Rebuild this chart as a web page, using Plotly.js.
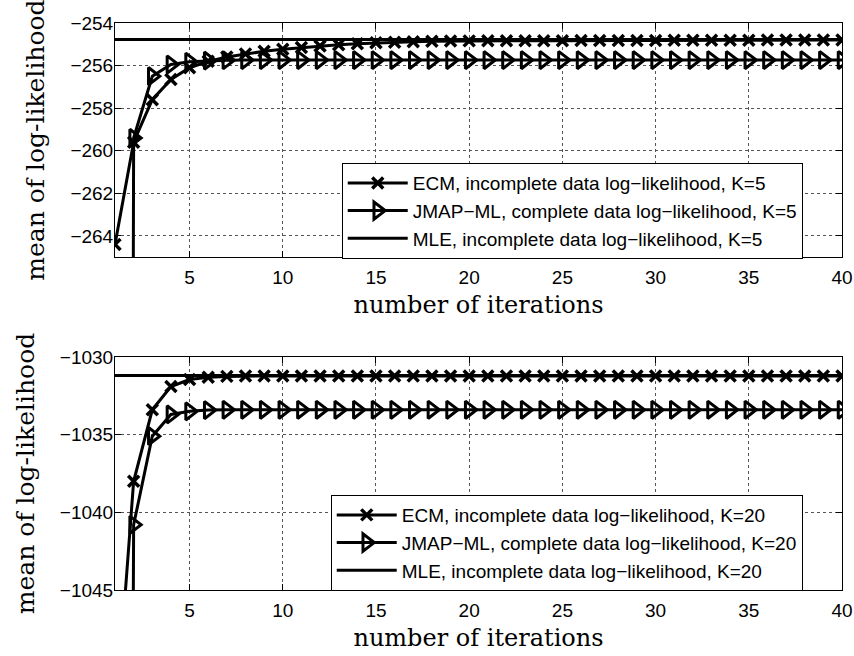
<!DOCTYPE html>
<html>
<head>
<meta charset="utf-8">
<script src="https://cdn.plot.ly/plotly-3.0.1.min.js"></script>
<style>html,body{margin:0;padding:0;background:#fff;}#chart{width:854px;height:656px;}</style>
</head>
<body>
<div id="chart"></div>
<script>
// iterations
const iterations = Array.from({length: 40}, (_, i) => i + 1);

// K=5 (top panel)
const ecmK5 = [-264.4, -259.6, -257.6, -256.65, -256.1, -255.8, -255.6, -255.45, -255.33, -255.23,
  -255.15, -255.08, -255.02, -254.97, -254.93, -254.9, -254.88, -254.86, -254.85, -254.84,
  -254.83, -254.83, -254.83, -254.83, -254.83, -254.82, -254.82, -254.82, -254.82, -254.82,
  -254.81, -254.81, -254.81, -254.81, -254.81, -254.8, -254.8, -254.8, -254.8, -254.8];
const jmapK5 = [-600, -259.4, -256.5, -255.95, -255.82, -255.77, -255.75, -255.74, -255.74, -255.74,
  -255.74, -255.74, -255.74, -255.74, -255.74, -255.74, -255.74, -255.74, -255.74, -255.74,
  -255.74, -255.74, -255.74, -255.74, -255.74, -255.74, -255.74, -255.74, -255.74, -255.74,
  -255.74, -255.74, -255.74, -255.74, -255.74, -255.74, -255.74, -255.74, -255.74, -255.74];
const mleK5 = Array(40).fill(-254.77);

// K=20 (bottom panel)
const ecmK20 = [-1054, -1038.0, -1033.4, -1031.9, -1031.45, -1031.3, -1031.25, -1031.22, -1031.22, -1031.22,
  -1031.22, -1031.22, -1031.22, -1031.22, -1031.22, -1031.22, -1031.22, -1031.22, -1031.22, -1031.22,
  -1031.22, -1031.22, -1031.22, -1031.22, -1031.22, -1031.22, -1031.22, -1031.22, -1031.22, -1031.22,
  -1031.22, -1031.22, -1031.22, -1031.22, -1031.22, -1031.22, -1031.22, -1031.22, -1031.22, -1031.22];
const jmapK20 = [-1300, -1040.8, -1035.1, -1033.7, -1033.5, -1033.42, -1033.4, -1033.4, -1033.4, -1033.4,
  -1033.4, -1033.4, -1033.4, -1033.4, -1033.4, -1033.4, -1033.4, -1033.4, -1033.4, -1033.4,
  -1033.4, -1033.4, -1033.4, -1033.4, -1033.4, -1033.4, -1033.4, -1033.4, -1033.4, -1033.4,
  -1033.4, -1033.4, -1033.4, -1033.4, -1033.4, -1033.4, -1033.4, -1033.4, -1033.4, -1033.4];
const mleK20 = Array(40).fill(-1031.2);

const namesK5 = ["ECM, incomplete data log\u2212likelihood, K=5", "JMAP\u2212ML, complete data log\u2212likelihood, K=5", "MLE, incomplete data log\u2212likelihood, K=5"];
const namesK20 = ["ECM, incomplete data log\u2212likelihood, K=20", "JMAP\u2212ML, complete data log\u2212likelihood, K=20", "MLE, incomplete data log\u2212likelihood, K=20"];
const xTicks = [5, 10, 15, 20, 25, 30, 35, 40];
const yTicksTop = [-264, -262, -260, -258, -256, -254];
const yTicksBottom = [-1045, -1040, -1035, -1030];

const ecmMarker = {symbol: 'x-thin', size: 11, color: '#000', line: {color: '#000', width: 3.5}};
const jmapMarker = {symbol: 'triangle-right-open', size: 15, color: '#000', line: {color: '#000', width: 3}};
const lineStyle = {color: '#000', width: 3};

const traces = [
  {x: iterations, y: ecmK5, name: namesK5[0], mode: 'lines+markers', line: lineStyle, marker: ecmMarker, xaxis: 'x', yaxis: 'y', legend: 'legend'},
  {x: iterations, y: jmapK5, name: namesK5[1], mode: 'lines+markers', line: lineStyle, marker: jmapMarker, xaxis: 'x', yaxis: 'y', legend: 'legend'},
  {x: iterations, y: mleK5, name: namesK5[2], mode: 'lines', line: lineStyle, xaxis: 'x', yaxis: 'y', legend: 'legend'},
  {x: iterations, y: ecmK20, name: namesK20[0], mode: 'lines+markers', line: lineStyle, marker: ecmMarker, xaxis: 'x2', yaxis: 'y2', legend: 'legend2'},
  {x: iterations, y: jmapK20, name: namesK20[1], mode: 'lines+markers', line: lineStyle, marker: jmapMarker, xaxis: 'x2', yaxis: 'y2', legend: 'legend2'},
  {x: iterations, y: mleK20, name: namesK20[2], mode: 'lines', line: lineStyle, xaxis: 'x2', yaxis: 'y2', legend: 'legend2'}
];

const tickFont = {family: 'Liberation Sans, Arial, sans-serif', size: 19, color: '#000'};
function xAxis(anchor) {
  return {
    anchor: anchor, domain: [0, 1], range: [1, 40], tickvals: xTicks, ticktext: xTicks.map(String),
    ticks: 'inside', ticklen: 6, tickcolor: '#000', showline: true, linecolor: '#000', linewidth: 1, mirror: 'ticks',
    showgrid: true, gridcolor: '#555', griddash: 'dot', gridwidth: 1, zeroline: false,
    tickfont: tickFont, ticklabelstandoff: 3,
    title: {text: 'number of iterations', font: {family: 'DejaVu Serif', size: 24, color: '#000'}, standoff: 9}
  };
}
function yAxis(anchor, domain, range, ticks) {
  return {
    anchor: anchor, domain: domain, range: range, tickvals: ticks,
    ticks: 'inside', ticklen: 6, tickcolor: '#000', showline: true, linecolor: '#000', linewidth: 1, mirror: 'ticks',
    showgrid: true, gridcolor: '#555', griddash: 'dot', gridwidth: 1, zeroline: false,
    tickfont: tickFont, ticklabelstandoff: -3,
    title: {text: 'mean of log-likelihood', font: {family: 'DejaVu Serif', size: 25, color: '#000'}, standoff: 18}
  };
}
const legendBase = {bordercolor: '#000', borderwidth: 1, bgcolor: '#fff', font: {family: 'Liberation Sans, Arial, sans-serif', size: 19, color: '#000'},
  xanchor: 'right', yanchor: 'top', itemwidth: 60, tracegroupgap: 0, itemclick: false};

const layout = {
  width: 854, height: 656,
  margin: {l: 115, r: 12, t: 23, b: 66},
  paper_bgcolor: '#fff', plot_bgcolor: '#fff',
  showlegend: true,
  xaxis: xAxis('y'),
  yaxis: yAxis('x', [0.587, 1], [-265, -254], yTicksTop),
  xaxis2: xAxis('y2'),
  yaxis2: yAxis('x2', [0, 0.411], [-1045, -1030], yTicksBottom),
  legend: Object.assign({}, legendBase, {x: 0.946, y: 0.753}),
  legend2: Object.assign({}, legendBase, {x: 0.946, y: 0.1675})
};

Plotly.newPlot('chart', traces, layout, {displayModeBar: false, staticPlot: true});
</script>
</body>
</html>
